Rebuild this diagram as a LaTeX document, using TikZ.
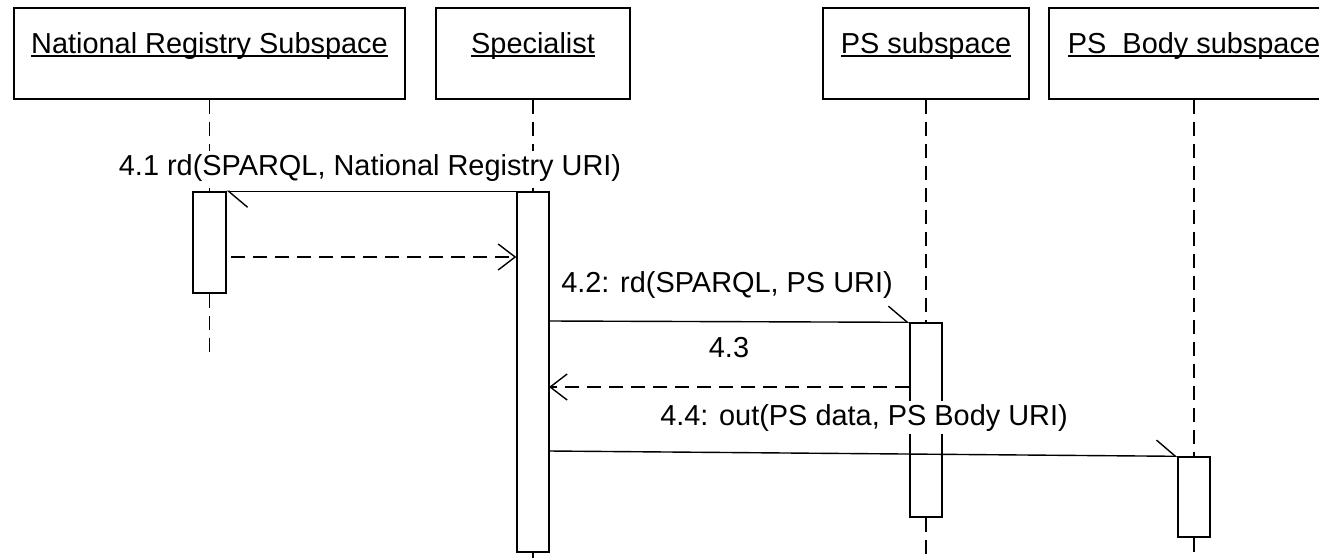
\documentclass[tikz,border=0pt]{standalone}
\usepackage{fontspec}
\setmainfont{Liberation Sans}
\usetikzlibrary{arrows.meta}
\newcommand\ultext[1]{\setbox0\hbox{#1}\rlap{\copy0}\rule[-4pt]{\wd0}{1.6pt}}
\begin{document}
\begin{tikzpicture}[x=1pt,y=-1pt,line width=1.4pt,
  objbox/.style={draw,rectangle,inner sep=0pt,minimum height=91pt},
  title/.style={inner sep=0pt,anchor=base,font=\fontsize{28.9}{34}\selectfont},
  lbl/.style={inner sep=3pt,anchor=base,font=\fontsize{28.9}{34}\selectfont},
  act/.style={draw,fill=white,rectangle,inner sep=0pt,minimum width=32pt},
  life/.style={dash pattern=on 14pt off 8pt},
  msg/.style={-{Straight Barb[harpoon,length=19pt,width=32pt]}},
  ret/.style={dash pattern=on 14pt off 8pt,-{Straight Barb[length=17pt,width=26pt]}}]
\clip (0,0) rectangle (1319,557);
% object boxes
\node[objbox,minimum width=391pt] (nr) at (209.5,53.5) {};
\node[objbox,minimum width=194pt] (sp) at (533,53.5) {};
\node[objbox,minimum width=206pt] (ps) at (926,53.5) {};
\node[objbox,minimum width=290pt] (bd) at (1194,53.5) {};
\node[title] (t1) at (209.5,53) {\ultext{National Registry Subspace}};
\node[title] (t2) at (533,53) {\ultext{Specialist}};
\node[title] (t3) at (926,53) {\ultext{PS subspace}};
\node[title] (t4) at (1194,53) {\ultext{PS\ \ Body subspace}};
% end points
\coordinate (nrend) at (209.5,355);
\coordinate (spend) at (533,560);
\coordinate (psend) at (926,560);
\coordinate (bdend) at (1194,560);
% activation places
\path node[act,draw=none,fill=none,minimum width=33pt,minimum height=101pt] (nract) at (209.5,242.5) {}
      node[act,draw=none,fill=none,minimum height=360pt] (spact) at (533,372) {}
      node[act,draw=none,fill=none,minimum height=194pt] (psact) at (926,420) {}
      node[act,draw=none,fill=none,minimum height=80pt] (bdact) at (1194,497) {};
% lifelines
\draw[life] (nr.south) -- (nract.north);
\draw[life] (nract.south) -- (nrend);
\draw[life] (sp.south) -- (spact.north);
\draw[life] (spact.south) -- (spend);
\draw[life] (ps.south) -- (psact.north);
\draw[life] (psact.south) -- (psend);
\draw[life] (bd.south) -- (bdact.north);
\draw[life] (bdact.south) -- (bdend);
% activation bars
\node[act,minimum width=33pt,minimum height=101pt] (nrbar) at (nract) {};
\node[act,minimum height=360pt] (spbar) at (spact) {};
\node[act,minimum height=194pt] (psbar) at (psact) {};
\node[act,minimum height=80pt] (bdbar) at (bdact) {};
% messages
\coordinate (r41s) at (231,257);
\coordinate (m42s) at (549,321);
\coordinate (r43e) at (549,387);
\coordinate (m44s) at (549,451);
\draw[msg] (spbar.north west) -- (nrbar.north east);
\draw[ret] (r41s) -- (r41s -| spbar.west);
\draw[msg] (m42s) -- (psbar.north west);
\draw[ret] (r43e -| psbar.west) -- (r43e);
\draw[msg] (m44s) -- (bdbar.north west);
% labels
\node[lbl,fill=white] (l41) at (370,175) {4.1 rd(SPARQL, National Registry URI)};
\node[lbl] (l42) at (727,292) {4.2: rd(SPARQL, PS URI)};
\node[lbl] (l43) at (729,357) {4.3};
\node[lbl,fill=white] (l44) at (864,425) {4.4: out(PS data, PS Body URI)};
\end{tikzpicture}
\end{document}
